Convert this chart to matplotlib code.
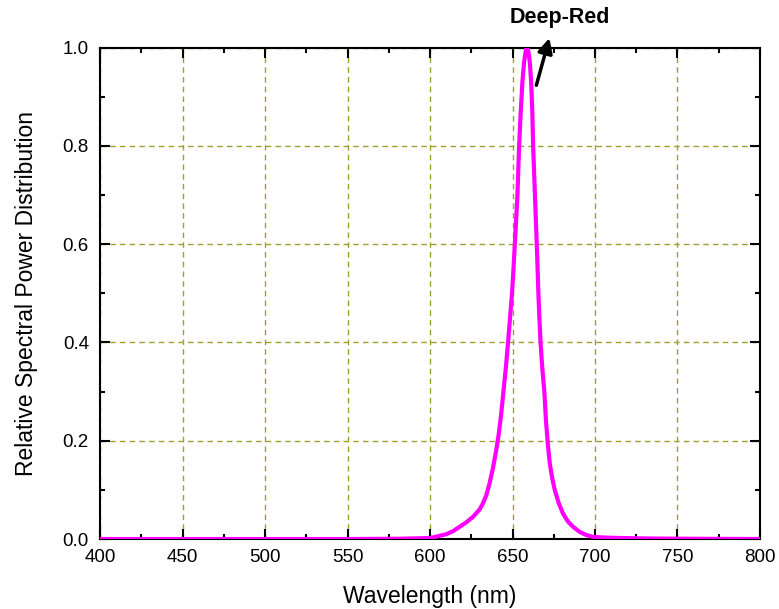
import numpy as np
import matplotlib.pyplot as plt
from matplotlib.ticker import MultipleLocator

plt.rcParams['font.family'] = ['Liberation Sans', 'DejaVu Sans']

# =========================
# Data
# =========================
wavelength = [400, 450, 500, 550, 580, 600, 604, 610, 614, 618, 622, 626, 630,
              632, 634, 636, 638, 640, 641.5, 643, 644.5, 646, 647.3, 648.5,
              649.7, 650.6, 651.4, 652.2, 653, 654, 655, 656, 657, 658, 658.8,
              659.6, 660.5, 661.3, 662, 662.5, 663.6, 664.7, 665.7, 666.3, 667,
              668, 669.3, 670.3, 671.5, 672.6, 674, 675.6, 678, 680.6, 683.5,
              686.7, 690.5, 694.8, 698, 702.8, 710, 720, 735, 760, 800]
power = [0.0, 0.0, 0.0, 0.0, 0.0005, 0.002, 0.005, 0.010, 0.016, 0.025, 0.034, 0.045, 0.060,
         0.072, 0.088, 0.112, 0.142, 0.178, 0.21, 0.25, 0.30, 0.35, 0.40, 0.45,
         0.50, 0.55, 0.60, 0.65, 0.70, 0.80, 0.87, 0.93, 0.97, 0.993, 1.0,
         0.993, 0.97, 0.93, 0.87, 0.80, 0.70, 0.60, 0.50, 0.45, 0.40,
         0.35, 0.30, 0.24, 0.19, 0.154, 0.125, 0.10, 0.073, 0.052, 0.036,
         0.025, 0.015, 0.008, 0.005, 0.0035, 0.0025, 0.0018, 0.001, 0.0005, 0.0]

label_text = "Deep-Red"

# =========================
# Plot
# =========================
fig = plt.figure(figsize=(7.79, 6.09), dpi=100)
ax = fig.add_axes([0.1284, 0.1149, 0.8472, 0.8068])

ax.plot(wavelength, power, color='#ff00ff', lw=3.0, zorder=3,
        solid_joinstyle='round')

ax.set_xlim(400, 800)
ax.set_ylim(0, 1.0)
ax.xaxis.set_major_locator(MultipleLocator(50))
ax.xaxis.set_minor_locator(MultipleLocator(25))
ax.yaxis.set_major_locator(MultipleLocator(0.2))
ax.yaxis.set_minor_locator(MultipleLocator(0.1))
ax.yaxis.set_major_formatter(plt.FormatStrFormatter('%.1f'))

ax.tick_params(which='both', direction='in', top=True, right=True,
               labeltop=False, labelright=False, width=1.5, labelsize=13.5)
ax.tick_params(which='major', length=7)
ax.tick_params(which='minor', length=3.5)
ax.tick_params(axis='x', which='major', pad=7)
ax.tick_params(axis='y', which='major', pad=8)
for s in ax.spines.values():
    s.set_linewidth(1.5)

ax.grid(True, which='major', color='#a0a030', linestyle=(0, (4, 3)), lw=1.0)

ax.set_xlabel("Wavelength (nm)", fontsize=16.5, labelpad=14)
ax.set_ylabel("Relative Spectral Power Distribution", fontsize=16.5, labelpad=18)

ax.annotate('', xy=(672.8, 1.025), xytext=(664.0, 0.918),
            arrowprops=dict(arrowstyle='-|>', color='black', lw=2.5, mutation_scale=22),
            annotation_clip=False)
ax.text(678.5, 1.062, label_text, ha='center', va='center', fontsize=15.5,
        fontweight='bold', clip_on=False)

plt.savefig("out.png", dpi=100)
